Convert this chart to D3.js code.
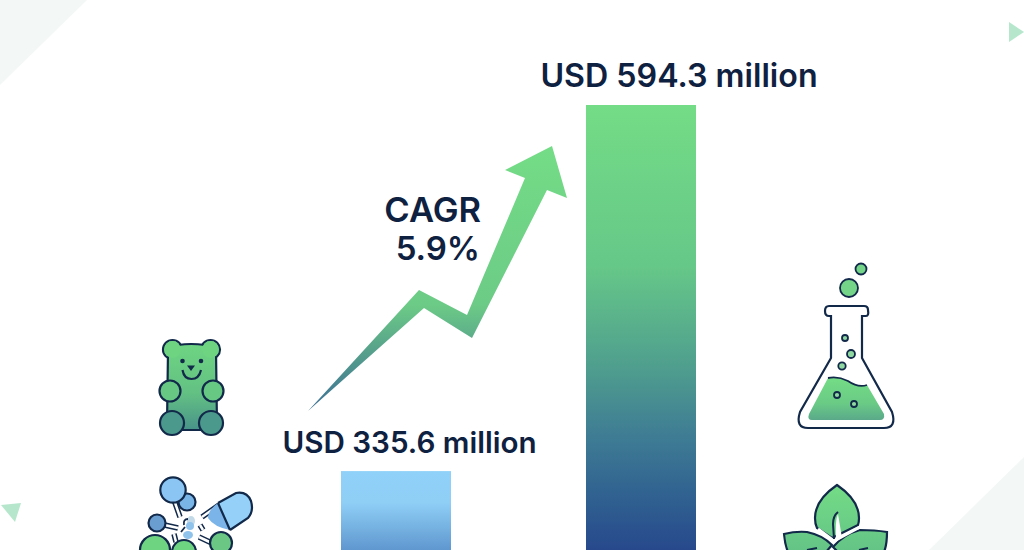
<!DOCTYPE html>
<html>
<head>
<meta charset="utf-8">
<script src="https://cdn.jsdelivr.net/npm/d3@7"></script>
<style>
  html, body { margin: 0; padding: 0; background: #fff; overflow: hidden; }
  svg { display: block; }
  text { font-family: Inter, "Open Sans", sans-serif; font-weight: 600; fill: #0f2140; }
</style>
</head>
<body>
<svg width="1024" height="550"></svg>
<script>
const categories = [ 'start', 'end' ];
const values = [ 335.6, 594.3 ];
const valueLabels = [ 'USD 335.6 million', 'USD 594.3 million' ];
const cagrLabels = [ 'CAGR', '5.9%' ];

const svg = d3.select( 'svg' );
const ink = '#12294a';
const defs = svg.append( 'defs' );

function gradient( id, y1, y2, stops ) {
  defs.append( 'linearGradient' )
    .attr( 'id', id )
    .attr( 'gradientUnits', 'userSpaceOnUse' )
    .attr( 'x1', 0 ).attr( 'x2', 0 )
    .attr( 'y1', y1 ).attr( 'y2', y2 )
    .selectAll( 'stop' )
    .data( stops )
    .join( 'stop' )
    .attr( 'offset', d => d[ 0 ] )
    .attr( 'stop-color', d => d[ 1 ] );
}

gradient( 'barStart', 471, 550, [ [ 0, '#90d1f9' ], [ 0.4, '#8fcff6' ], [ 1, '#5f97cf' ] ] );
gradient( 'barEnd', 105, 550, [ [ 0, '#74dc86' ], [ 0.36, '#66c888' ], [ 0.59, '#4f9e8e' ], [ 0.74, '#3f7d94' ], [ 0.89, '#2f5f90' ], [ 1, '#27498c' ] ] );
gradient( 'arrow', 146, 411, [ [ 0, '#74dc86' ], [ 0.6, '#6ccb86' ], [ 0.78, '#569f8c' ], [ 1, '#3c6f96' ] ] );
gradient( 'bear', 345, 432, [ [ 0, '#6ed482' ], [ 0.55, '#63c183' ], [ 1, '#47908a' ] ] );
gradient( 'liquid', 378, 420, [ [ 0, '#74dc86' ], [ 0.6, '#6acb85' ], [ 1, '#5aa98a' ] ] );
gradient( 'leaf', 485, 550, [ [ 0, '#74dc86' ], [ 1, '#64c486' ] ] );

// background corners
const corners = [
  { points: '0,0 87,0 0,85', fill: '#f3f8f7' },
  { points: '1024,457 1024,550 929,550', fill: '#f3f8f7' },
  { points: '1009,22 1024,32 1009,42', fill: '#b6e7cd' },
  { points: '1,505 21,503 15,522', fill: '#b6e7cd' }
];
svg.selectAll( 'polygon.corner' )
  .data( corners )
  .join( 'polygon' )
  .attr( 'class', 'corner' )
  .attr( 'points', d => d.points )
  .attr( 'fill', d => d.fill );

// bars, the baseline is below the bottom of the window
const x = d3.scaleBand()
  .domain( categories )
  .range( [ 341, 696 ] )
  .paddingInner( 0.551 );
const y = d3.scaleLinear()
  .domain( [ 0, 594.3 ] )
  .range( [ 946, 105 ] );

svg.selectAll( 'rect.bar' )
  .data( values )
  .join( 'rect' )
  .attr( 'class', 'bar' )
  .attr( 'x', ( d, i ) => x( categories[ i ] ) )
  .attr( 'y', d => y( d ) )
  .attr( 'width', x.bandwidth() )
  .attr( 'height', d => y( 0 ) - y( d ) )
  .attr( 'fill', ( d, i ) => i == 0 ? 'url(#barStart)' : 'url(#barEnd)' );

svg.selectAll( 'text.value' )
  .data( valueLabels )
  .join( 'text' )
  .attr( 'class', 'value' )
  .attr( 'x', ( d, i ) => i == 0 ? 409.5 : 679 )
  .attr( 'y', ( d, i ) => i == 0 ? 452.5 : 86.5 )
  .attr( 'text-anchor', 'middle' )
  .attr( 'font-size', ( d, i ) => i == 0 ? 29.6 : 32.2 )
  .text( d => d );

// cagr arrow and label
svg.append( 'path' )
  .attr( 'd', 'M308,411 L419,290 L467,315 L525,178 L505,170 L552,146 L567,198 L547,190 L472,338 L424,308 Z' )
  .attr( 'fill', 'url(#arrow)' );

svg.selectAll( 'text.cagr' )
  .data( cagrLabels )
  .join( 'text' )
  .attr( 'class', 'cagr' )
  .attr( 'x', ( d, i ) => i == 0 ? 481 : 480 )
  .attr( 'y', ( d, i ) => 222 + i * 38 )
  .attr( 'text-anchor', 'end' )
  .attr( 'font-size', ( d, i ) => i == 0 ? 34.5 : 33 )
  .text( d => d );

// icons
function dots( g, list, fill, width ) {
  g.selectAll( null )
    .data( list )
    .join( 'circle' )
    .attr( 'cx', d => d[ 0 ] )
    .attr( 'cy', d => d[ 1 ] )
    .attr( 'r', d => d[ 2 ] )
    .attr( 'fill', d => d[ 3 ] || fill )
    .attr( 'stroke', ink )
    .attr( 'stroke-width', width );
}

const bear = svg.append( 'g' );
dots( bear, [ [ 172.5, 349.5, 9.5 ], [ 210.5, 349.5, 9.5 ] ], '#6ed482', 2.2 );
bear.append( 'path' )
  .attr( 'd', 'M168,350 Q170,346 178,345 Q191,343 205,345 Q213,346 216,350 L217,425 L217,430 L167,430 L167,425 Z' )
  .attr( 'fill', 'url(#bear)' )
  .attr( 'stroke', ink )
  .attr( 'stroke-width', 2.2 );
// ears run into the head with no line between them
bear.selectAll( null )
  .data( [ [ 172.5, 349.5 ], [ 210.5, 349.5 ] ] )
  .join( 'circle' )
  .attr( 'cx', d => d[ 0 ] ).attr( 'cy', d => d[ 1 ] ).attr( 'r', 8.4 )
  .attr( 'fill', '#6ed482' );
dots( bear, [ [ 170, 391, 10.5 ], [ 213, 391, 10.5 ] ], '#66c883', 2.2 );
dots( bear, [ [ 172, 423, 12 ], [ 211, 423, 12 ] ], '#4b998c', 2.2 );
bear.selectAll( null )
  .data( [ [ 182.5, 361 ], [ 201, 361 ] ] )
  .join( 'circle' )
  .attr( 'cx', d => d[ 0 ] ).attr( 'cy', d => d[ 1 ] ).attr( 'r', 2.3 )
  .attr( 'fill', ink );
bear.append( 'path' )
  .attr( 'd', 'M187,365.5 L195,365.5 L191,371 Z' )
  .attr( 'fill', ink );
bear.append( 'path' )
  .attr( 'd', 'M182.5,370 Q184,379 191.5,379 Q199,379 201,370' )
  .attr( 'fill', 'none' )
  .attr( 'stroke', ink )
  .attr( 'stroke-width', 2.2 );

const molecule = svg.append( 'g' );
const bonds = 'M173,497 L180,517 M160,524 L178,528 M200,525 L203,530 M199,537 L216,545 M174,534 L176,542 M202,517 L219,505';
molecule.append( 'path' )
  .attr( 'd', bonds )
  .attr( 'stroke', ink )
  .attr( 'stroke-width', 5.5 )
  .attr( 'fill', 'none' );
molecule.append( 'path' )
  .attr( 'd', bonds )
  .attr( 'stroke', '#fff' )
  .attr( 'stroke-width', 2.5 )
  .attr( 'fill', 'none' );
dots( molecule, [
  [ 187, 502, 8.5, '#7ab5e8' ],
  [ 173, 490, 12.7, '#8ac5f3' ],
  [ 157, 523, 8.5, '#6a9dd0' ],
  [ 155, 550, 15, '#6ed482' ],
  [ 184, 552, 12, '#6ed482' ],
  [ 221, 543, 11, '#6ac784' ]
], '#6ed482', 2.2 );
molecule.selectAll( null )
  .data( [ [ 191, 521, 4, 5, '#c3dbe8' ], [ 190, 526, 4, 4, '#8fc3ec' ], [ 188, 535, 5, 4, '#8fc3ec' ] ] )
  .join( 'ellipse' )
  .attr( 'cx', d => d[ 0 ] ).attr( 'cy', d => d[ 1 ] )
  .attr( 'rx', d => d[ 2 ] ).attr( 'ry', d => d[ 3 ] )
  .attr( 'fill', d => d[ 4 ] );
molecule.append( 'path' )
  .attr( 'd', 'M188,519 Q183,519 184,525 M185,527 L181,532' )
  .attr( 'fill', 'none' )
  .attr( 'stroke', ink )
  .attr( 'stroke-width', 1.8 );
molecule.append( 'path' )
  .attr( 'd', 'M218,503 L236,493 Q247,491 251,501 Q254,511 248,518 L230,530 Z' )
  .attr( 'fill', '#94d0f8' );
molecule.append( 'path' )
  .attr( 'd', 'M218,503 Q208,510 208,518 Q214,527 230,530 Z' )
  .attr( 'fill', '#7ab4e8' );
molecule.append( 'path' )
  .attr( 'd', 'M218,503 L236,493 Q247,491 251,501 Q254,511 248,518 L230,530 M218,503 L230,530' )
  .attr( 'fill', 'none' )
  .attr( 'stroke', ink )
  .attr( 'stroke-width', 2.2 );

const flask = svg.append( 'g' );
dots( flask, [ [ 861, 269, 5.5 ], [ 849, 288, 9 ] ], '#74d488', 1.8 );
flask.append( 'path' )
  .attr( 'd', 'M828,378 Q838,376 848,381 Q858,388 867,385 L884,414 Q885,420 880,420 L812,420 Q807,420 809,414 Z' )
  .attr( 'fill', 'url(#liquid)' );
flask.append( 'path' )
  .attr( 'd', 'M828,378 Q838,376 848,381 Q858,388 867,385' )
  .attr( 'fill', 'none' )
  .attr( 'stroke', ink )
  .attr( 'stroke-width', 1.8 );
flask.append( 'path' )
  .attr( 'd', 'M831,316 L831,358 L800,412 Q795,428 808,428 L884,428 Q897,428 892,412 L862,358 L862,316 L866,316 Q869,316 868,310 Q868,306 864,306 L829,306 Q825,306 825,311 Q825,316 829,316 Z' )
  .attr( 'fill', 'none' )
  .attr( 'stroke', ink )
  .attr( 'stroke-width', 2.2 );
dots( flask, [ [ 845, 338, 3 ], [ 851, 354, 4 ], [ 842, 366, 3.7 ], [ 837, 395, 3 ], [ 854, 404, 3 ] ], '#8fd9a0', 1.8 );

const plant = svg.append( 'g' );
const leaves = [
  'M837,485 Q815,500 815,518 Q815,524 817,528 L832,538 L858,525 Q859,522 859,518 Q859,500 837,485 Z',
  'M784,534 Q796,531 807,532 Q822,535 832,545 L826,552 L788,552 Q785,545 784,534 Z',
  'M887,532 Q875,530 860,530 Q844,534 833,547 L838,552 L884,552 Q887,545 887,532 Z'
];
plant.selectAll( null )
  .data( leaves )
  .join( 'path' )
  .attr( 'd', d => d )
  .attr( 'fill', 'url(#leaf)' )
  .attr( 'stroke', ink )
  .attr( 'stroke-width', 2.2 );
// white gap between the leaves and the middle vein
plant.append( 'path' )
  .attr( 'd', 'M818,529 L834,541 L860,527' )
  .attr( 'fill', 'none' )
  .attr( 'stroke', '#fff' )
  .attr( 'stroke-width', 3 );
plant.append( 'path' )
  .attr( 'd', 'M838,512 Q833,516 833,524 L834,539' )
  .attr( 'fill', 'none' )
  .attr( 'stroke', ink )
  .attr( 'stroke-width', 2 );
plant.append( 'path' )
  .attr( 'd', 'M838,514 Q835,520 836,540 L842,538 Z' )
  .attr( 'fill', '#fff' );
plant.append( 'path' )
  .attr( 'd', 'M807,550 L817,548 M859,550 L868,548' )
  .attr( 'fill', 'none' )
  .attr( 'stroke', ink )
  .attr( 'stroke-width', 2 );
</script>
</body>
</html>
